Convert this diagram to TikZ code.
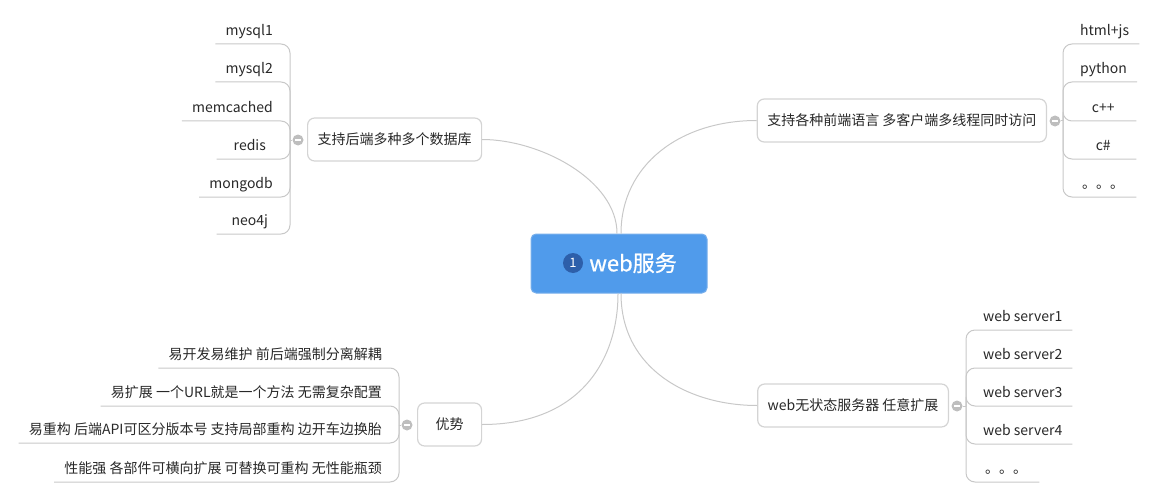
\documentclass[tikz,border=0pt]{standalone}
\usepackage{fontspec}
\setmainfont{Noto Sans CJK SC}
\newfontfamily\hubfont[FakeBold=0.8]{Noto Sans CJK SC}
\definecolor{linegray}{RGB}{200,200,200}
\definecolor{boxgray}{RGB}{212,212,212}
\definecolor{textgray}{RGB}{40,40,40}
\definecolor{hubblue}{RGB}{80,155,235}
\definecolor{hubedge}{RGB}{120,175,235}
\definecolor{badgeblue}{RGB}{45,95,170}
\definecolor{foldgray}{RGB}{190,190,190}
\begin{document}
\begin{tikzpicture}[x=1pt,y=-1pt,
  conn/.style={draw=linegray, line width=1pt},
  elbow/.style={conn, rounded corners=9pt},
  topic/.style={draw=boxgray, line width=1.2pt, rounded corners=7pt, fill=white,
    minimum height=43pt, minimum width=64pt, inner xsep=10pt, text=textgray,
    font=\fontsize{14}{17}\selectfont},
  hub/.style={draw=hubedge, line width=1pt, fill=hubblue, rounded corners=5pt,
    minimum width=176pt, minimum height=59pt},
  hubtext/.style={text=white, font=\hubfont\fontsize{22}{26}\selectfont, inner sep=0pt},
  badge/.style={circle, fill=badgeblue, minimum size=20pt, inner sep=0pt,
    text=white, font=\fontsize{13}{14}\selectfont},
  leaf/.style={minimum width=66pt, inner xsep=10pt, inner ysep=5pt,
    text height=11pt, text depth=3pt, text=textgray,
    font=\fontsize{14}{17}\selectfont},
  leafL/.style={leaf, anchor=south east},
  leafR/.style={leaf, anchor=south west},
  fold/.style={circle, fill=foldgray, minimum size=11pt, inner sep=0pt,
    path picture={\draw[white, line width=1.4pt]
      ([xshift=-3pt]path picture bounding box.center) --
      ([xshift=3pt]path picture bounding box.center);}},
]
\useasboundingbox (0,0) rectangle (1158,500);

% central topic
\node[hub] (c) at (619,263.5) {};
\node[badge] (num) at (573,263) {1};
\node[hubtext] (title) at (633,263) {web服务};

% main topics
\node[topic, anchor=west] (db) at (307,139.5) {支持后端多种多个数据库};
\node[topic, anchor=east] (fe) at (1047,120.5) {支持各种前端语言 多客户端多线程同时访问};
\node[topic, anchor=east] (ws) at (949,405.5) {web无状态服务器 任意扩展};
\node[topic, anchor=west] (adv) at (417,424.5) {优势};

% curved links from the centre
\draw[conn] ([xshift=-2pt]c.north) .. controls (617,180) and (540,139.5) .. (db.east);
\draw[conn] ([xshift=2pt]c.north) .. controls (621,165) and (680,120.5) .. (fe.west);
\draw[conn] ([xshift=-1pt]c.south) .. controls (618,360) and (580,424.5) .. (adv.east);
\draw[conn] ([xshift=2pt]c.south) .. controls (621,370) and (690,405.5) .. (ws.west);

% fold markers and junctions
\node[fold] (fdb) at (298,140) {};
\node[fold] (ffe) at (1055,121) {};
\node[fold] (fws) at (957,406) {};
\node[fold] (fadv) at (407,425) {};
\coordinate (jdb) at (290,140);
\coordinate (jfe) at (1063,121);
\coordinate (jws) at (966,406);
\coordinate (jadv) at (399,425);
\draw[conn] (fdb.west) -- (jdb);
\draw[conn] (ffe.east) -- (jfe);
\draw[conn] (fws.east) -- (jws);
\draw[conn] (fadv.west) -- (jadv);

% databases
\node[leafL] (d1) at (283,44) {mysql1};
\node[leafL] (d2) at (283,82) {mysql2};
\node[leafL] (d3) at (283,121) {memcached};
\node[leafL] (d4) at (283,159) {redis};
\node[leafL] (d5) at (283,197) {mongodb};
\node[leafL] (d6) at (283,234) {neo4j};
\foreach \n in {d1,d2,d3,d4,d5,d6}
  \draw[elbow] (jdb) |- (\n.south west);

% front-end languages
\node[leafR] (l1) at (1070,44) {html+js};
\node[leafR] (l2) at (1070,82) {python};
\node[leafR] (l3) at (1070,121) {c++};
\node[leafR] (l4) at (1070,159) {c\#};
\node[leafR] (l5) at (1070,197) {。。。};
\foreach \n in {l1,l2,l3,l4,l5}
  \draw[elbow] (jfe) |- (\n.south east);

% web servers
\node[leafR] (s1) at (973,330) {web server1};
\node[leafR] (s2) at (973,368) {web server2};
\node[leafR] (s3) at (973,406) {web server3};
\node[leafR] (s4) at (973,444) {web server4};
\node[leafR] (s5) at (973,482) {。。。};
\foreach \n in {s1,s2,s3,s4,s5}
  \draw[elbow] (jws) |- (\n.south east);

% advantages
\node[leafL] (a1) at (392,368) {易开发易维护 前后端强制分离解耦};
\node[leafL] (a2) at (392,406) {易扩展 一个URL就是一个方法 无需复杂配置};
\node[leafL] (a3) at (392,443) {易重构 后端API可区分版本号 支持局部重构 边开车边换胎};
\node[leafL] (a4) at (392,482) {性能强 各部件可横向扩展 可替换可重构 无性能瓶颈};
\foreach \n in {a1,a2,a3,a4}
  \draw[elbow] (jadv) |- (\n.south west);
\end{tikzpicture}
\end{document}
